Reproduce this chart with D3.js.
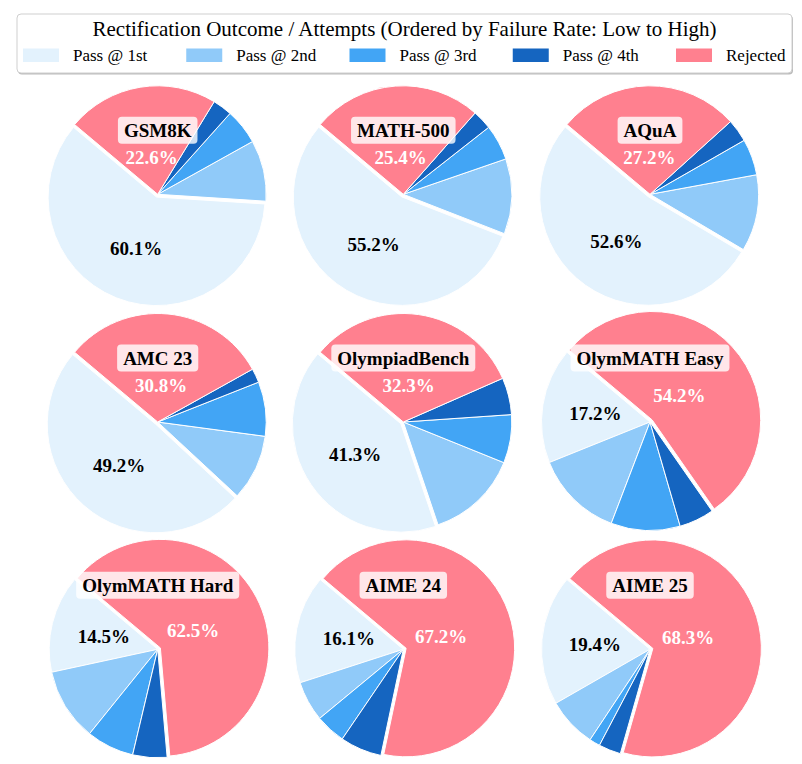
<!DOCTYPE html>
<html>
<head>
<meta charset="utf-8">
<script src="https://cdn.jsdelivr.net/npm/d3@7"></script>
<style>
  body { margin: 0; background: #fff; }
  svg { display: block; }
  text { font-family: "Liberation Serif", "Times New Roman", serif; }
</style>
</head>
<body>
<svg id="chart" width="802" height="764"></svg>
<script>
// datasets, ordered by failure rate (low to high)
const datasets = ['GSM8K', 'MATH-500', 'AQuA', 'AMC 23', 'OlympiadBench',
                  'OlymMATH Easy', 'OlymMATH Hard', 'AIME 24', 'AIME 25'];
const outcomes = ['Pass @ 1st', 'Pass @ 2nd', 'Pass @ 3rd', 'Pass @ 4th', 'Rejected'];

// percentages per outcome, one entry per dataset
const pass1st  = [60.1, 55.2, 52.6, 49.2, 41.3, 17.2, 14.5, 16.1, 19.4];
const pass2nd  = [ 9.1, 11.2, 11.4,  9.8, 13.7, 13.1, 10.8,  6.0,  7.4];
const pass3rd  = [ 5.3,  5.3,  5.4,  8.1,  7.2, 10.3,  7.1,  4.5,  1.6];
const pass4th  = [ 2.9,  2.9,  3.4,  2.1,  5.5,  5.2,  5.1,  6.2,  3.3];
const rejected = [22.6, 25.4, 27.2, 30.8, 32.3, 54.2, 62.5, 67.2, 68.3];

const colors = ['#E3F2FD', '#90CAF9', '#42A5F5', '#1565C0', '#FF808F'];

const svg = d3.select('#chart');
const deg = Math.PI / 180;

/* ------------- Legend ------------- */
const legend = svg.append('g');
legend.append('rect')
  .attr('x', 18).attr('y', 15.5).attr('width', 775).attr('height', 59).attr('rx', 4)
  .attr('fill', '#bbb');
legend.append('rect')
  .attr('x', 17).attr('y', 14).attr('width', 775).attr('height', 59).attr('rx', 4)
  .attr('fill', '#fff').attr('stroke', '#cfcfcf').attr('stroke-width', 1);
legend.append('text')
  .attr('x', 404.5).attr('y', 35.5)
  .attr('text-anchor', 'middle')
  .attr('font-size', 21)
  .text('Rectification Outcome / Attempts (Ordered by Failure Rate: Low to High)');

const legendX = d3.scalePoint().domain(outcomes).range([23, 676]);
const item = legend.selectAll('g.item').data(outcomes).enter().append('g')
  .attr('class', 'item')
  .attr('transform', d => `translate(${legendX(d)},0)`);
item.append('rect')
  .attr('y', 48.5).attr('width', 36).attr('height', 13.5)
  .attr('fill', (d, i) => colors[i]);
item.append('text')
  .attr('x', 50).attr('y', 61)
  .attr('font-size', 17)
  .text(d => d);

/* ------------- Pies ------------- */
const colX = [157.7, 403.3, 650];
const rowY = [194.3, 422, 649.3];
const radius = 108.5;
const explode = 3;

const pie = d3.pie().sort(null).value(d => d)
  .startAngle((90 - 140) * deg)
  .endAngle((90 - 140 - 360) * deg);
const arc = d3.arc().innerRadius(0).outerRadius(radius);
const shift = d3.arc().innerRadius(explode).outerRadius(explode);
const lab1 = d3.arc().innerRadius(radius * 0.51).outerRadius(radius * 0.51);
const labR = d3.arc().innerRadius(radius * 0.34).outerRadius(radius * 0.34);

datasets.forEach((name, k) => {
  const values = [pass1st[k], pass2nd[k], pass3rd[k], pass4th[k], rejected[k]];
  const big = values.indexOf(d3.max(values));
  const arcs = pie(values);
  const g = svg.append('g')
    .attr('transform', `translate(${colX[k % 3]},${rowY[Math.floor(k / 3)]})`);

  g.selectAll('path').data(arcs).enter().append('path')
    .attr('transform', (d, i) => i === big ? `translate(${shift.centroid(d)})` : null)
    .attr('d', arc)
    .attr('fill', (d, i) => colors[i])
    .attr('stroke', '#fff')
    .attr('stroke-width', 1);

  [[0, lab1, '#000'], [4, labR, '#fff']].forEach(([i, a, c]) => {
    const d = arcs[i];
    const p = a.centroid(d);
    if (i === big) { const s = shift.centroid(d); p[0] += s[0]; p[1] += s[1]; }
    g.append('text')
      .attr('x', p[0]).attr('y', p[1])
      .attr('text-anchor', 'middle').attr('dominant-baseline', 'central')
      .attr('font-size', 19).attr('font-weight', 'bold')
      .attr('fill', c)
      .text(d.data.toFixed(1) + '%');
  });

  const title = g.append('g').attr('transform', 'translate(0,-64)');
  const t = title.append('text')
    .attr('text-anchor', 'middle').attr('dominant-baseline', 'central')
    .attr('font-size', 19).attr('font-weight', 'bold')
    .text(name);
  const w = t.node().getComputedTextLength();
  title.insert('rect', 'text')
    .attr('x', -w / 2 - 6).attr('y', -13.5).attr('width', w + 12).attr('height', 27)
    .attr('rx', 4).attr('fill', '#fff').attr('fill-opacity', 0.8);
});
</script>
</body>
</html>
